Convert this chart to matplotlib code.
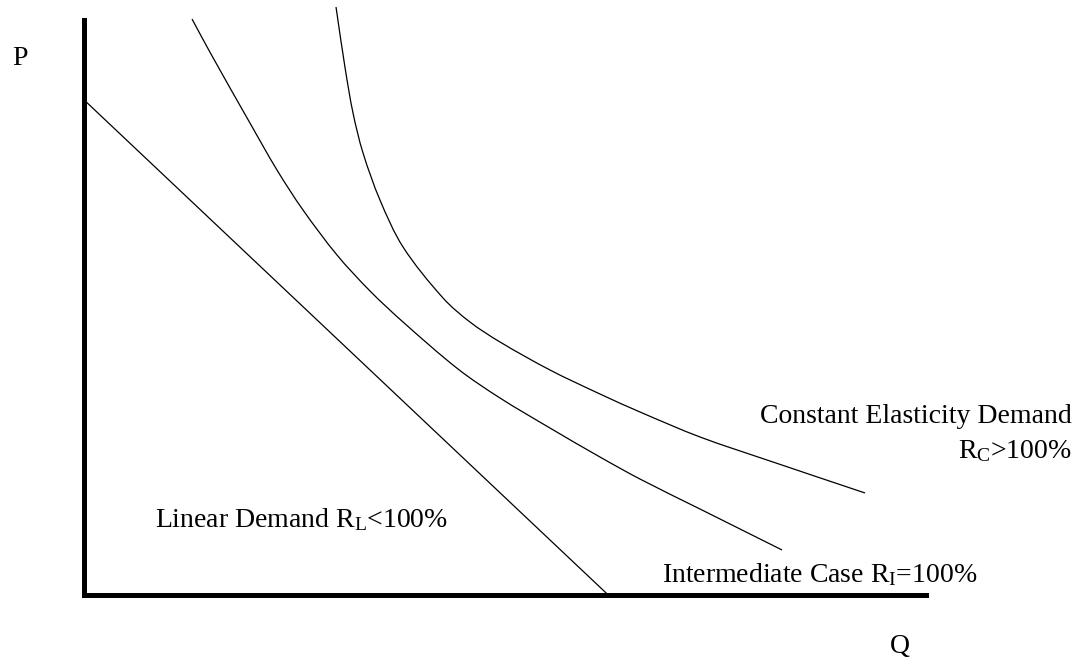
import matplotlib
matplotlib.use("Agg")
import matplotlib.pyplot as plt
from matplotlib.path import Path
from matplotlib.patches import PathPatch
import numpy as np

plt.rcParams['font.family'] = ['Liberation Serif', 'DejaVu Serif']
plt.rcParams['mathtext.fontset'] = 'custom'
plt.rcParams['mathtext.rm'] = 'Liberation Serif'
plt.rcParams['mathtext.it'] = 'Liberation Serif:italic'

# Linear demand
linear_q = [0.0, 62.2]
linear_p = [86.1, 0.0]

# Intermediate case
inter_q = [12.83, 15.08, 19.71, 22.92, 26.01, 30.05, 33.97, 37.89, 44.42,
           49.41, 55.34, 61.28, 66.03, 73.16, 82.90]
inter_p = [100.17, 94.08, 82.07, 73.89, 66.93, 59.09, 52.83, 47.43, 39.25,
           34.20, 28.98, 23.93, 20.10, 14.88, 7.75]

# Constant elasticity demand
const_q = [29.93, 30.99, 31.95, 33.14, 35.15, 37.89, 42.64, 45.84,
           49.41, 55.34, 61.28, 66.03, 73.16, 81.83, 92.76]
const_p = [102.26, 91.82, 83.81, 76.85, 68.67, 60.49, 51.61, 47.43,
           43.95, 39.08, 34.90, 31.77, 27.42, 23.06, 17.67]

W, H = 1083, 660
fig = plt.figure(figsize=(W / 100, H / 100), dpi=100)
ax = fig.add_axes([84 / W, 1 - 594.5 / H, (926 - 84) / W, (594.5 - 20) / H])
ax.set_xlim(0, 100)
ax.set_ylim(0, 100)
for s in ['top', 'right']:
    ax.spines[s].set_visible(False)
for s in ['left', 'bottom']:
    ax.spines[s].set_linewidth(3.6)
    ax.spines[s].set_color('black')
ax.set_xticks([])
ax.set_yticks([])


def smooth_path(qs, ps):
    """Smooth Bezier path through the data points (chord-length Hermite)."""
    pts = np.column_stack([qs, ps]).astype(float)
    scale = np.array([8.42, 5.745])
    sp = pts * scale
    n = len(sp)
    d = np.sqrt(((sp[1:] - sp[:-1]) ** 2).sum(axis=1))
    t = np.concatenate([[0], np.cumsum(d)])
    tang = np.zeros_like(sp)
    for i in range(n):
        if i == 0:
            tang[i] = (sp[1] - sp[0]) / (t[1] - t[0])
        elif i == n - 1:
            tang[i] = (sp[-1] - sp[-2]) / (t[-1] - t[-2])
        else:
            tang[i] = (sp[i + 1] - sp[i - 1]) / (t[i + 1] - t[i - 1])
    verts = [pts[0]]
    codes = [Path.MOVETO]
    for i in range(n - 1):
        h = t[i + 1] - t[i]
        c1 = (sp[i] + tang[i] * h / 3.0) / scale
        c2 = (sp[i + 1] - tang[i + 1] * h / 3.0) / scale
        verts += [c1, c2, pts[i + 1]]
        codes += [Path.CURVE4] * 3
    return Path(verts, codes)


lw = 0.9
ax.plot(linear_q, linear_p, color='black', lw=lw, clip_on=False)
for qs, ps in [(inter_q, inter_p), (const_q, const_p)]:
    patch = PathPatch(smooth_path(qs, ps), facecolor='none', edgecolor='black',
                      lw=lw, clip_on=False)
    ax.add_patch(patch)

fs = 20
ax.text(-8.55, 92.17, 'P', fontsize=fs, ha='left', va='baseline', clip_on=False)
ax.text(95.7, -10.18, 'Q', fontsize=fs, ha='left', va='baseline', clip_on=False)
ax.text(8.43, 11.75, r'Linear Demand R$_\mathrm{L}$<100%', fontsize=fs,
        ha='left', va='baseline', clip_on=False)
ax.text(68.65, 2.18, r'Intermediate Case R$_\mathrm{I}$=100%', fontsize=fs,
        ha='left', va='baseline', clip_on=False)
ax.text(117.3, 29.85, 'Constant Elasticity Demand', fontsize=fs,
        ha='right', va='baseline', clip_on=False)
ax.text(117.3, 23.76, r'R$_\mathrm{C}$>100%', fontsize=fs,
        ha='right', va='baseline', clip_on=False)

fig.savefig('out.png', dpi=100)
